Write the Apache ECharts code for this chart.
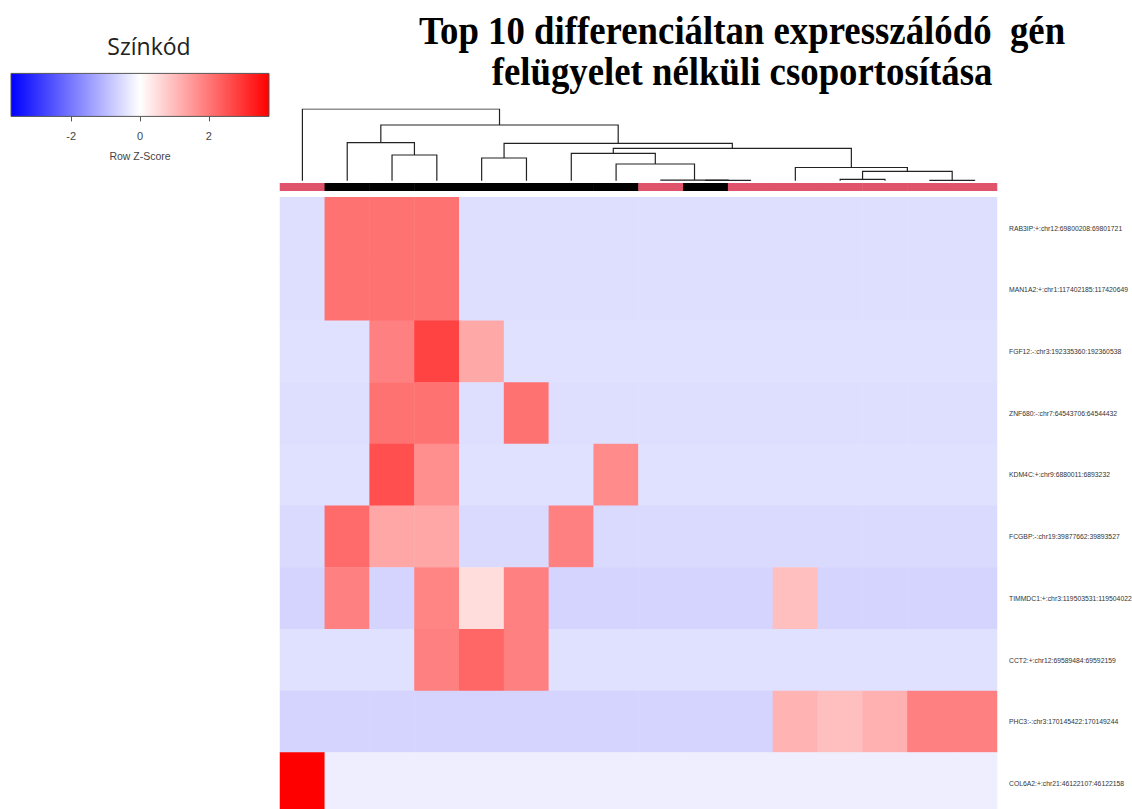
<!DOCTYPE html>
<html><head><meta charset="utf-8">
<script src="https://cdn.jsdelivr.net/npm/echarts@6/dist/echarts.min.js"></script>
<style>html,body{margin:0;padding:0;background:#fff}#c{width:1132px;height:809px}</style>
</head><body><div id="c"></div>
<script>
// ---- data ----
const samples = ['S1','S2','S3','S4','S5','S6','S7','S8','S9','S10','S11','S12','S13','S14','S15','S16'];
const genes = [
  'RAB3IP:+:chr12:69800208:69801721',
  'MAN1A2:+:chr1:117402185:117420649',
  'FGF12:-:chr3:192335360:192360538',
  'ZNF680:-:chr7:64543706:64544432',
  'KDM4C:+:chr9:6880011:6893232',
  'FCGBP:-:chr19:39877662:39893527',
  'TIMMDC1:+:chr3:119503531:119504022',
  'CCT2:+:chr12:69589484:69592159',
  'PHC3:-:chr3:170145422:170149244',
  'COL6A2:+:chr21:46122107:46122158'
];
const zRAB3IP  = [-0.48, 2.08, 2.08, 2.08,-0.48,-0.48,-0.48,-0.48,-0.48,-0.48,-0.48,-0.48,-0.48,-0.48,-0.48,-0.48];
const zMAN1A2  = [-0.48, 2.08, 2.08, 2.08,-0.48,-0.48,-0.48,-0.48,-0.48,-0.48,-0.48,-0.48,-0.48,-0.48,-0.48,-0.48];
const zFGF12   = [-0.46,-0.46, 1.87, 2.78, 1.28,-0.46,-0.46,-0.46,-0.46,-0.46,-0.46,-0.46,-0.46,-0.46,-0.46,-0.46];
const zZNF680  = [-0.48,-0.48, 2.08, 2.08,-0.48, 2.08,-0.48,-0.48,-0.48,-0.48,-0.48,-0.48,-0.48,-0.48,-0.48,-0.48];
const zKDM4C   = [-0.46,-0.46, 2.59, 1.65,-0.46,-0.46,-0.46, 1.70,-0.46,-0.46,-0.46,-0.46,-0.46,-0.46,-0.46,-0.46];
const zFCGBP   = [-0.55, 2.18, 1.30, 1.30,-0.55,-0.55, 1.87,-0.55,-0.55,-0.55,-0.55,-0.55,-0.55,-0.55,-0.55,-0.55];
const zTIMMDC1 = [-0.63, 1.87,-0.63, 1.80, 0.50, 1.87,-0.63,-0.63,-0.63,-0.63,-0.63, 0.94,-0.63,-0.63,-0.63,-0.63];
const zCCT2    = [-0.46,-0.46,-0.46, 1.87, 2.25, 1.87,-0.46,-0.46,-0.46,-0.46,-0.46,-0.46,-0.46,-0.46,-0.46,-0.46];
const zPHC3    = [-0.63,-0.63,-0.63,-0.63,-0.63,-0.63,-0.63,-0.63,-0.63,-0.63,-0.63, 1.12, 0.94, 1.15, 1.87, 1.87];
const zCOL6A2  = [ 3.75,-0.25,-0.25,-0.25,-0.25,-0.25,-0.25,-0.25,-0.25,-0.25,-0.25,-0.25,-0.25,-0.25,-0.25,-0.25];
const zRows = [zRAB3IP, zMAN1A2, zFGF12, zZNF680, zKDM4C, zFCGBP, zTIMMDC1, zCCT2, zPHC3, zCOL6A2];
// column side colour groups (1 = red, 2 = black)
const sideGroup = [1,2,2,2,2,2,2,2,1,2,1,1,1,1,1,1];
// column dendrogram, hclust-style merges (negative = leaf, positive = earlier merge)
const mergeLeft   = [-10, -9, -15, -13, 4, -12, -8, -5, -3, -7, 10, 8, -2, 13, -1];
const mergeRight  = [-11,  1, -16, -14, 3,   5,  2, -6, -4,  7,  6, 11,  9, 12, 14];
const mergeHeight = [0.3, 0.6, 0.3, 1.3, 9.3, 13.2, 16.7, 22.7, 25.7, 27.4, 32.4, 37.4, 38.0, 55.7, 71.7];
const legendTicks = [-2, 0, 2];
const zMin = -3.75, zMax = 3.75;

// ---- build ----
const heatData = [];
zRows.forEach((row, r) => row.forEach((v, c) => heatData.push([c, r, v])));
const sideData = sideGroup.map((g, c) => [c, 0, g]);
const nodeX = [], nodeH = [];
function pos(id) { return id < 0 ? [(-id - 1) + 0.5, 0] : [nodeX[id - 1], nodeH[id - 1]]; }
const dendroLines = mergeLeft.map((l, i) => {
  const a = pos(l), b = pos(mergeRight[i]), h = mergeHeight[i];
  nodeX[i] = (a[0] + b[0]) / 2; nodeH[i] = h;
  return { coords: [a, [a[0], h], [b[0], h], b] };
});
const dendroTop = Math.max(...mergeHeight);

const chart = echarts.init(document.getElementById('c'), null, { renderer: 'svg' });
const gridBase = { left: 280, width: 717, outerBoundsMode: 'none', containLabel: false };
chart.setOption({
  animation: false,
  backgroundColor: '#fff',
  graphic: [
    { type: 'text', x: 742, y: 30, scaleX: 0.92, style: { text: 'Top 10 differenciáltan expresszálódó\u00a0 gén', fill: '#000', font: 'bold 40px "Liberation Serif"', align: 'center', verticalAlign: 'middle' } },
    { type: 'text', x: 742, y: 71, scaleX: 0.92, style: { text: 'felügyelet nélküli csoportosítása', fill: '#000', font: 'bold 40px "Liberation Serif"', align: 'center', verticalAlign: 'middle' } },
    { type: 'text', x: 149, y: 46, style: { text: 'Színkód', fill: '#222', font: '23px "Open Sans"', align: 'center', verticalAlign: 'middle' } }
  ],
  grid: [
    Object.assign({ top: 197.3, height: 617 }, gridBase),
    Object.assign({ top: 180.7 - dendroTop, height: dendroTop }, gridBase),
    Object.assign({ top: 183.2, height: 7.6 }, gridBase),
    { left: 11, width: 258, top: 73.4, height: 43, outerBoundsMode: 'none', containLabel: false }
  ],
  xAxis: [
    { type: 'category', data: samples, gridIndex: 0, show: false },
    { type: 'value', min: 0, max: samples.length, gridIndex: 1, show: false },
    { type: 'category', data: samples, gridIndex: 2, show: false },
    { type: 'value', min: zMin, max: zMax, gridIndex: 3,
      axisLine: { show: false }, splitLine: { show: false },
      axisTick: { show: true, length: 5, lineStyle: { color: '#555', width: 1 }, customValues: legendTicks },
      axisLabel: { customValues: legendTicks, margin: 14, fontSize: 11, color: '#444', fontFamily: 'Liberation Sans' },
      name: 'Row Z-Score', nameLocation: 'middle', nameGap: 34,
      nameTextStyle: { fontSize: 10.5, color: '#444', fontFamily: 'Liberation Sans', verticalAlign: 'top' } }
  ],
  yAxis: [
    { type: 'category', data: genes, gridIndex: 0, inverse: true, position: 'right',
      axisLine: { show: false }, axisTick: { show: false }, splitLine: { show: false },
      axisLabel: { margin: 12, fontSize: 6.8, color: '#333', fontFamily: 'Liberation Sans', align: 'left' } },
    { type: 'value', min: 0, max: dendroTop, gridIndex: 1, show: false },
    { type: 'category', data: ['side'], gridIndex: 2, show: false },
    { type: 'value', min: 0, max: 1, gridIndex: 3, show: false }
  ],
  visualMap: [
    { type: 'continuous', min: zMin, max: zMax, seriesIndex: 0, show: false,
      inRange: { color: ['#0000FF', '#FFFFFF', '#FF0000'] } },
    { type: 'piecewise', seriesIndex: 1, show: false,
      pieces: [{ value: 1, color: '#DF536B' }, { value: 2, color: '#000000' }] }
  ],
  series: [
    { type: 'heatmap', xAxisIndex: 0, yAxisIndex: 0, data: heatData, silent: true,
      itemStyle: { borderWidth: 0 } },
    { type: 'heatmap', xAxisIndex: 2, yAxisIndex: 2, data: sideData, silent: true },
    { type: 'lines', coordinateSystem: 'cartesian2d', xAxisIndex: 1, yAxisIndex: 1, polyline: true,
      data: dendroLines, silent: true, lineStyle: { color: '#222', width: 1.2, opacity: 1 } },
    { type: 'custom', xAxisIndex: 3, yAxisIndex: 3, data: [[0, 0]], silent: true,
      renderItem: (params, api) => {
        const p0 = api.coord([zMin, 1]), p1 = api.coord([zMax, 0]);
        return { type: 'rect', shape: { x: p0[0], y: p0[1], width: p1[0] - p0[0], height: p1[1] - p0[1] },
          style: { fill: { type: 'linear', x: 0, y: 0, x2: 1, y2: 0, colorStops: [
            { offset: 0, color: '#0000FF' }, { offset: 0.5, color: '#FFFFFF' }, { offset: 1, color: '#FF0000' }] },
            stroke: '#555', lineWidth: 1 } };
      } }
  ]
});
</script></body></html>
